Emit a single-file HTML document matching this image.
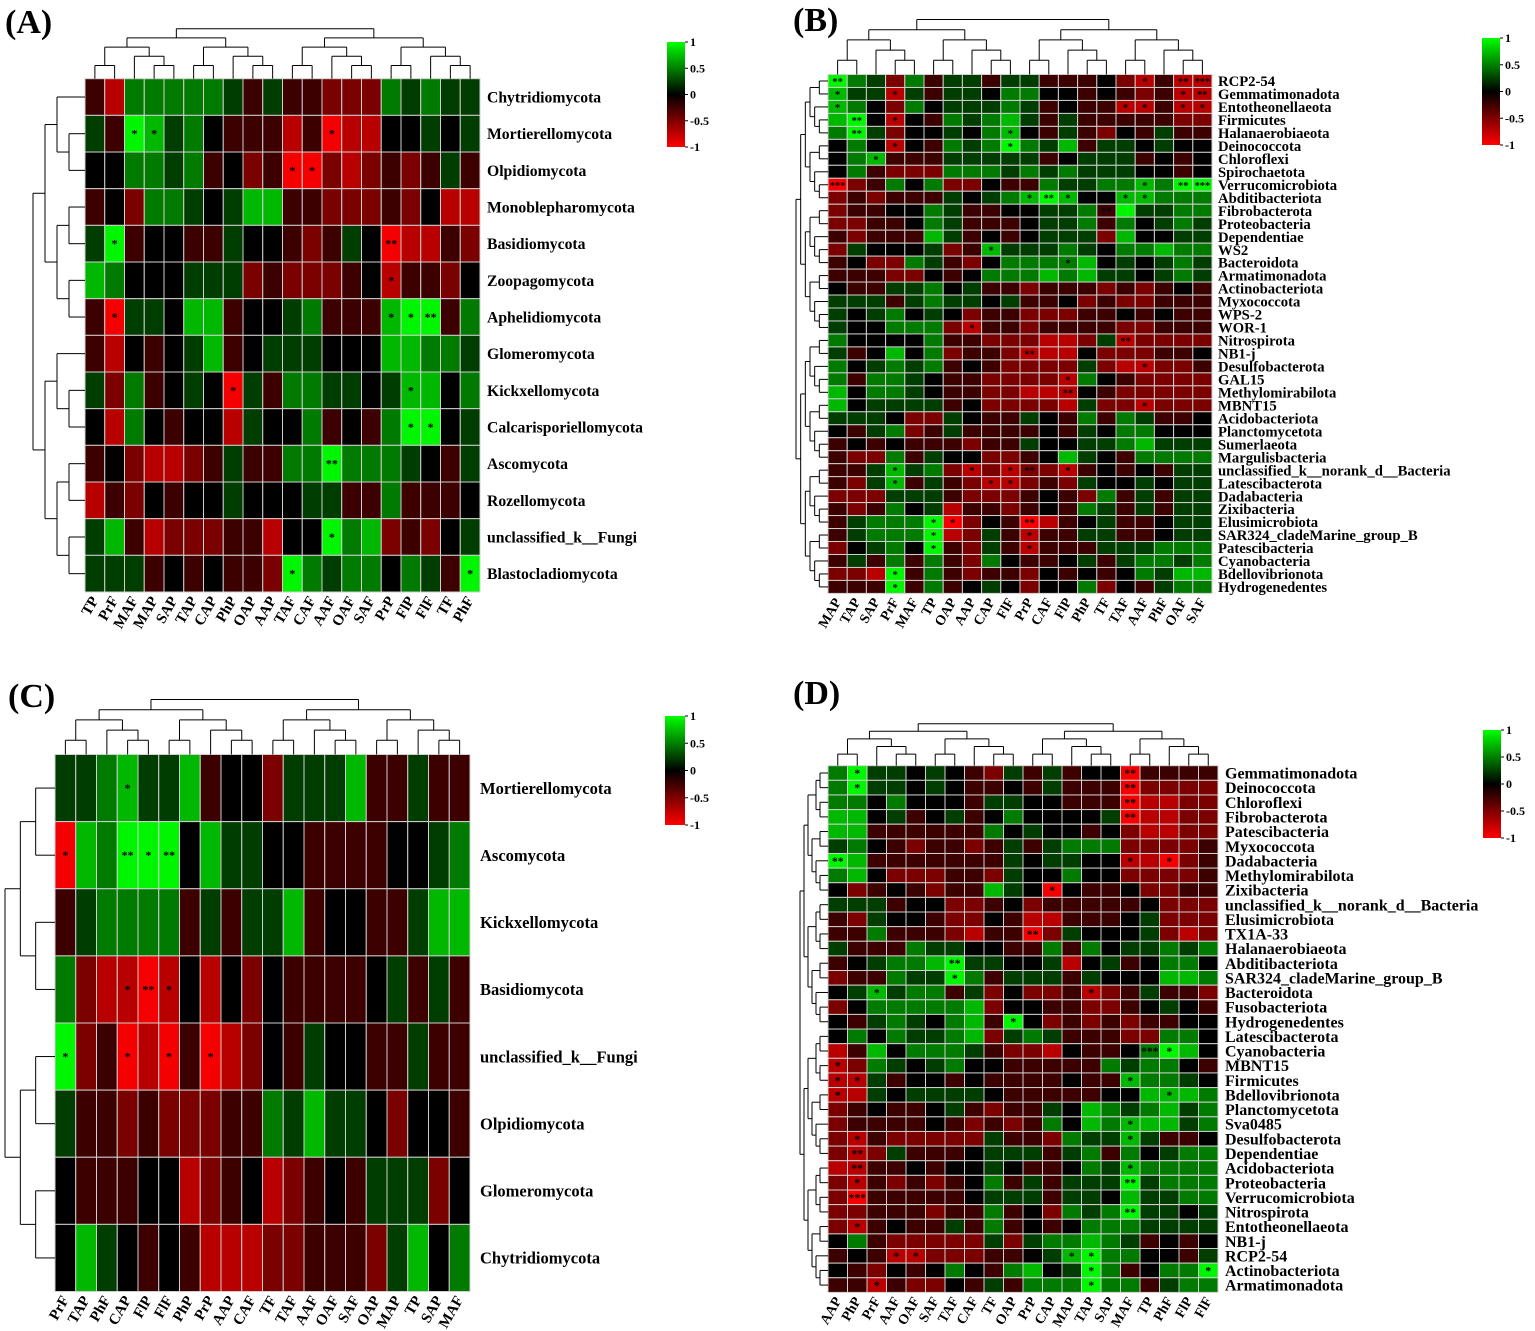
<!DOCTYPE html>
<html><head><meta charset="utf-8"><style>
html,body{margin:0;padding:0;background:#fff;}
svg{display:block;}
text{font-family:"Liberation Serif",serif;font-weight:bold;}
</style></head><body>
<svg id="fig" width="1535" height="1331" viewBox="0 0 1535 1331" xmlns="http://www.w3.org/2000/svg">
<defs>
<linearGradient id="cb" x1="0" y1="0" x2="0" y2="1">
<stop offset="0" stop-color="#00ff00"/><stop offset="0.5" stop-color="#000"/><stop offset="1" stop-color="#ff0000"/>
</linearGradient>
</defs>
</svg>
<script>
// ---------- Panel A data ----------
const aCols=["TP","PrF","MAF","MAP","SAP","TAP","CAP","PhP","OAP","AAP","TAF","CAF","AAF","OAF","SAF","PrP","FlP","FlF","TF","PhF"];
const aRows=["Chytridiomycota","Mortierellomycota","Olpidiomycota","Monoblepharomycota","Basidiomycota","Zoopagomycota","Aphelidiomycota","Glomeromycota","Kickxellomycota","Calcarisporiellomycota","Ascomycota","Rozellomycota","unclassified_k__Fungi","Blastocladiomycota"];
const aVals=["31666665353322265655","53875643331301144545","44665634230021232353","34266545773322232411","58344335443235401132","76444555232223413324","30554773445633378836","31434573455544477665","52634540536655457746","41643441544634368845","34211235336686665435","13243445444553363334","57312223314486723245","55534343328656646538"];
const aStars=[[1,2,"*"],[1,3,"*"],[1,12,"*"],[2,10,"*"],[2,11,"*"],[4,1,"*"],[4,15,"**"],[5,15,"*"],[6,1,"*"],[6,15,"*"],[6,16,"*"],[6,17,"**"],[8,7,"*"],[8,16,"*"],[9,16,"*"],[9,17,"*"],[10,12,"**"],[12,12,"*"],[13,10,"*"],[13,19,"*"]];
// ---------- Panel B data ----------
const bCols=["MAP","TAP","SAP","PrF","MAF","TP","OAP","AAP","CAP","FlF","PrP","CAF","FlP","PhP","TF","TAF","AAF","PhF","OAF","SAF"];
const bRows=["RCP2-54","Gemmatimonadota","Entotheonellaeota","Firmicutes","Halanaerobiaeota","Deinococcota","Chloroflexi","Spirochaetota","Verrucomicrobiota","Abditibacteriota","Fibrobacterota","Proteobacteria","Dependentiae","WS2","Bacteroidota","Armatimonadota","Actinobacteriota","Myxococcota","WPS-2","WOR-1","Nitrospirota","NB1-j","Desulfobacterota","GAL15","Methylomirabilota","MBNT15","Acidobacteriota","Planctomycetota","Sumerlaeota","Margulisbacteria","unclassified_k__norank_d__Bacteria","Latescibacterota","Dadabacteria","Zixibacteria","Elusimicrobiota","SAR324_cladeMarine_group_B","Patescibacteria","Cyanobacteria","Bdellovibrionota","Hydrogenedentes"];
const bVals=["86526355355333421311","75515355466443432311","76426455565343311311","78414365675353333322","68524454674353243533","46414365686573554544","46733355555345553434","46322266656565554434","02364622433655667688","23233354567874477666","23344653344556385566","22334653334556364565","32333753434555274455","25444523755565466766","34226532466667454565","33322434666767554565","43355645332333232343","55535655453342322333","54564542332223343433","54466621332333322333","64444633222112512222","53474623321114222334","64565634322225211223","63665433222216432222","74665433221114322222","74555534222215221222","55542254335436365334","43562353333435466444","34343332335445567555","32263544223475436666","33575621212213434355","32573532112325445455","22255532223432635355","32364513323436535355","35666802430134533455","35666812531335533455","24564832531333555666","35363632643345356656","22183632332434346577","33383634542446243566"];
const bStars=[[0,0,"**"],[0,16,"*"],[0,18,"**"],[0,19,"***"],[1,0,"*"],[1,3,"*"],[1,18,"*"],[1,19,"**"],[2,0,"*"],[2,15,"*"],[2,16,"*"],[2,18,"*"],[2,19,"*"],[3,1,"**"],[3,3,"*"],[4,1,"**"],[4,9,"*"],[5,3,"*"],[5,9,"*"],[6,2,"*"],[8,0,"***"],[8,16,"*"],[8,18,"**"],[8,19,"***"],[9,10,"*"],[9,11,"**"],[9,12,"*"],[9,15,"*"],[9,16,"*"],[10,14,"**"],[13,8,"*"],[14,12,"*"],[19,7,"*"],[20,15,"**"],[21,10,"**"],[22,16,"*"],[23,12,"*"],[24,12,"**"],[25,16,"*"],[30,3,"*"],[30,7,"*"],[30,9,"*"],[30,10,"**"],[30,12,"*"],[31,3,"*"],[31,8,"*"],[31,9,"*"],[34,5,"*"],[34,6,"*"],[34,10,"**"],[35,5,"*"],[35,10,"*"],[36,5,"*"],[36,10,"*"],[38,3,"*"],[39,3,"*"]];
// ---------- Panel C data ----------
const cCols=["PrF","TAP","PhF","CAP","FlP","FlF","PhP","PrP","AAP","CAF","TF","TAF","AAF","OAF","SAF","OAP","MAP","TP","SAP","MAF"];
const cRows=["Mortierellomycota","Ascomycota","Kickxellomycota","Basidiomycota","unclassified_k__Fungi","Olpidiomycota","Glomeromycota","Chytridiomycota"];
const cVals=["55675573442555733533","07688847554433334456","35666635355734433577","62110141424333345353","82301030124354433533","53323222336575542443","43334412341234355524","47543431112233325746"];
const cStars=[[0,3,"*"],[1,0,"*"],[1,3,"**"],[1,4,"*"],[1,5,"**"],[3,3,"*"],[3,4,"**"],[3,5,"*"],[4,0,"*"],[4,3,"*"],[4,5,"*"],[4,7,"*"]];
// ---------- Panel D data ----------
const dCols=["AAP","PhP","PrF","AAF","OAF","SAF","TAF","CAF","TF","OAP","PrP","CAP","MAP","TAP","SAP","MAF","TP","PhF","FlP","FlF"];
const dRows=["Gemmatimonadota","Deinococcota","Chloroflexi","Fibrobacterota","Patescibacteria","Myxococcota","Dadabacteria","Methylomirabilota","Zixibacteria","unclassified_k__norank_d__Bacteria","Elusimicrobiota","TX1A-33","Halanaerobiaeota","Abditibacteriota","SAR324_cladeMarine_group_B","Bacteroidota","Fusobacteriota","Hydrogenedentes","Latescibacterota","Cyanobacteria","MBNT15","Firmicutes","Bdellovibrionota","Planctomycetota","Sva0485","Desulfobacterota","Dependentiae","Acidobacteriota","Proteobacteria","Verrucomicrobiota","Nitrospirota","Entotheonellaeota","NB1-j","RCP2-54","Actinobacteriota","Armatimonadota"];
const dVals=["68554543253534403333","68554543343533302222","66464443554433301122","77453453464444501122","77333333645443421122","56432332353566622223","87333333354554411023","67422233254464422223","42343233754043342233","55534422342333334222","32544322431133345222","33633321330254445212","53336554433636455656","34566785544514534664","23365586355535444776","45756635242231235332","24666667244332234543","43565467384232323344","46465567256533322664","13746665322143346874","12654564433333656643","11534434333343376654","11545555433333447776","23433453233547656756","23333432323647677756","21322222533265575334","21253334555356364566","11334344543346576666","21323234635355585666","20333334555355475566","22333233634265685545","21343353634346665555","46322222525667653434","34311222334578664435","43243464367458634668","33132243536668663566"];
const dStars=[[0,1,"*"],[0,15,"**"],[1,1,"*"],[1,15,"**"],[2,15,"**"],[3,15,"**"],[6,0,"**"],[6,15,"*"],[6,17,"*"],[8,11,"*"],[11,10,"**"],[13,6,"**"],[14,6,"*"],[15,2,"*"],[15,13,"*"],[17,9,"*"],[19,16,"***"],[19,17,"*"],[20,0,"*"],[21,0,"*"],[21,1,"*"],[21,15,"*"],[22,0,"*"],[22,15,"*"],[22,17,"*"],[24,15,"*"],[25,1,"*"],[25,15,"*"],[26,1,"**"],[27,1,"**"],[27,15,"*"],[28,1,"*"],[28,15,"**"],[29,1,"***"],[30,15,"**"],[31,1,"*"],[33,3,"*"],[33,4,"*"],[33,12,"*"],[33,13,"*"],[34,13,"*"],[34,19,"*"],[35,2,"*"],[35,13,"*"]];
const legendTicks=["1","0.5","0","-0.5","-1"];

const NS="http://www.w3.org/2000/svg";
const svg=document.getElementById("fig");
function mk(tag,attrs,parent){const e=document.createElementNS(NS,tag);for(const k in attrs)e.setAttribute(k,attrs[k]);(parent||svg).appendChild(e);return e;}
function color(level){const v=(level-4)/4;if(v<0)return "rgb("+Math.round(245*-v)+",0,0)";return "rgb(0,"+Math.round(245*v)+",0)";}

function drawTree(g,centers,orient,base,step){
  function rec(i,j){
    if(j-i===1)return {p:centers[i],d:0};
    const m=Math.floor((i+j)/2);const a=rec(i,m),b=rec(m,j);const d=Math.max(a.d,b.d)+1;
    const ha=base-a.d*step, hb=base-b.d*step, hc=base-d*step;
    if(orient==="left"){
      mk("line",{x1:ha,y1:a.p,x2:hc,y2:a.p},g);mk("line",{x1:hb,y1:b.p,x2:hc,y2:b.p},g);mk("line",{x1:hc,y1:a.p,x2:hc,y2:b.p},g);
    }else{
      mk("line",{x1:a.p,y1:ha,x2:a.p,y2:hc},g);mk("line",{x1:b.p,y1:hb,x2:b.p,y2:hc},g);mk("line",{x1:a.p,y1:hc,x2:b.p,y2:hc},g);
    }
    return {p:(a.p+b.p)/2,d:d};
  }
  rec(0,centers.length);
}

function panel(id,cols,rows,vals,stars,x0,x1,y0,y1,rowFont,colFont,leftW,topH,cb,labGap){
  const g=mk("g",{});
  
  
  const nc=cols.length,nr=rows.length,cw=(x1-x0)/nc,rh=(y1-y0)/nr;
  const xc=i=>x0+(i+0.5)*cw, yc=j=>y0+(j+0.5)*rh;
  const cells=mk("g",{},g);
  
  
  for(let r=0;r<nr;r++)for(let c=0;c<nc;c++){
    const rc=mk("rect",{x:x0+c*cw,y:y0+r*rh,width:cw,height:rh,fill:color(+vals[r][c]),stroke:"#d0d0d0","stroke-width":1},cells);
    
    
  }
  stars.forEach(s=>{
    const t=mk("text",{x:xc(s[1]),y:yc(s[0])+4,"text-anchor":"middle","font-size":Math.min(12,rh*0.8),fill:"#000"},g);
    t.textContent=s[2];
    
    
  });
  rows.forEach((n,j)=>{
    const t=mk("text",{x:x1+labGap,y:yc(j)+rowFont*0.35,"font-size":rowFont,fill:"#000"},g);
    t.textContent=n;
    
    
    mk("line",{x1:x0-4,y1:yc(j),x2:x0,y2:yc(j),stroke:"#000"},g);
  });
  cols.forEach((n,i)=>{
    const t=mk("text",{x:xc(i)+4,y:y1+8,"text-anchor":"end","font-size":colFont,fill:"#000",transform:"rotate(-60 "+(xc(i)+4)+" "+(y1+8)+")"},g);
    t.textContent=n;
    
    
    mk("line",{x1:xc(i),y1:y0-4,x2:xc(i),y2:y0,stroke:"#000"},g);
  });
  const tl=mk("g",{stroke:"#000","stroke-width":1,fill:"none"},g);
  
  
  const depthR=Math.ceil(Math.log2(nr));
  drawTree(tl,rows.map((_,j)=>yc(j)),"left",x0-4,(leftW-4)/depthR);
  const tt=mk("g",{stroke:"#000","stroke-width":1,fill:"none"},g);
  
  
  const depthC=Math.ceil(Math.log2(nc));
  drawTree(tt,cols.map((_,i)=>xc(i)),"top",y0-4,(topH-4)/depthC);
  const lg=mk("g",{},g);
  
  
  mk("rect",{x:cb[0],y:cb[1],width:cb[2],height:cb[3],fill:"url(#cb)"},lg);
  legendTicks.forEach((t,k)=>{
    const yy=cb[1]+cb[3]*k/4;
    mk("line",{x1:cb[0]+cb[2],y1:yy,x2:cb[0]+cb[2]+3,y2:yy,stroke:"#000"},lg);
    const tx=mk("text",{x:cb[0]+cb[2]+5,y:yy+4,"font-size":12,fill:"#000"},lg);
    tx.textContent=t;
    
    
  });
}

panel("a",aCols,aRows,aVals,aStars,85,480,78.7,592,15.7,15,52,50,[667,42,18,105],7);
panel("b",bCols,bRows,bVals,bStars,828,1212,74.5,593.4,14.7,14,32,55,[1482,38,18,107],6);
panel("c",cCols,cRows,cVals,cStars,55,470,754.5,1291.5,16.5,15,50,55,[665,716,20,109],10);
panel("d",dCols,dRows,dVals,dStars,828,1218,765.7,1292.4,16,14,28,42,[1483,730,18,108],7);

[["(A)",5,33],["(B)",793,31],["(C)",8,707],["(D)",793,704]].forEach(p=>{
  const t=mk("text",{x:p[1],y:p[2],"font-size":34,fill:"#000"});
  t.textContent=p[0];
  
  
});
</script>
</body></html>
